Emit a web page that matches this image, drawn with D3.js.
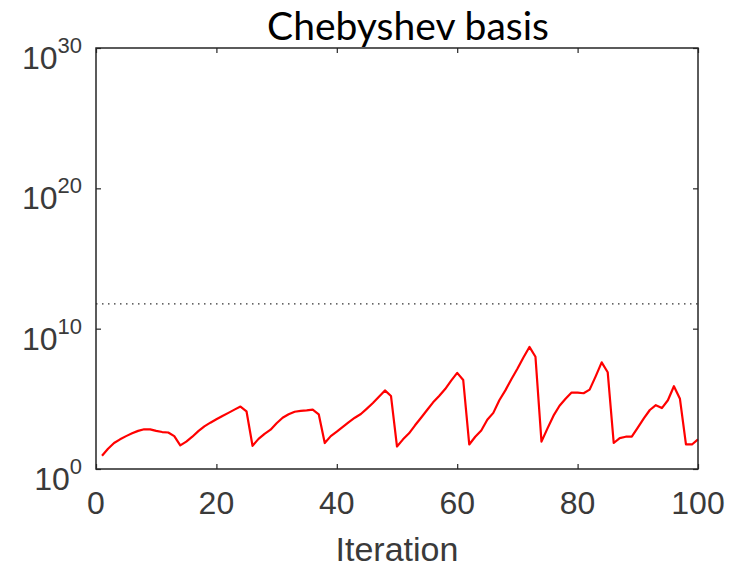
<!DOCTYPE html>
<html>
<head>
<meta charset="utf-8">
<script src="https://cdn.jsdelivr.net/npm/d3@7"></script>
<style>
  html, body { margin: 0; padding: 0; background: #fff; }
  svg { display: block; }
</style>
</head>
<body>
<svg id="chart" width="740" height="567"></svg>
<script>
// Growth factor per iteration, Chebyshev basis
const iterations = d3.range(1, 101);
const growth = [
  8.9e0, 2.8e1, 7.1e1, 1.3e2, 2.2e2, 3.5e2, 5.2e2, 6.8e2, 6.7e2, 5.2e2,
  4.3e2, 4.0e2, 2.2e2, 4.8e1, 8.9e1, 2.0e2, 5.0e2, 1.1e3, 2.0e3, 3.5e3,
  6.0e3, 1.0e4, 1.7e4, 2.8e4, 1.3e4, 4.5e1, 1.4e2, 3.2e2, 6.3e2, 1.8e3,
  4.5e3, 7.9e3, 1.2e4, 1.4e4, 1.5e4, 1.7e4, 7.9e3, 7.1e1, 2.2e2, 4.6e2,
  1.0e3, 2.2e3, 4.5e3, 8.3e3, 2.0e4, 5.0e4, 1.4e5, 4.0e5, 1.6e5, 4.0e1,
  1.3e2, 3.5e2, 1.3e3, 4.5e3, 1.6e4, 5.6e4, 1.6e5, 5.0e5, 2.0e6, 7.1e6,
  2.2e6, 5.6e1, 2.0e2, 5.6e2, 3.2e3, 1.0e4, 7.9e4, 4.0e5, 2.5e6, 1.4e7,
  8.9e7, 5.0e8, 1.0e8, 8.9e1, 7.9e2, 6.3e3, 3.2e4, 1.0e5, 2.8e5, 2.8e5,
  2.5e5, 4.5e5, 4.0e6, 4.0e7, 7.9e6, 7.1e1, 1.6e2, 2.0e2, 2.0e2, 8.9e2,
  4.0e3, 1.6e4, 3.5e4, 2.2e4, 7.9e4, 7.9e5, 1.0e5, 5.6e1, 5.6e1, 1.3e2
];
const threshold = 5.8e11;
const xTicks = [0, 20, 40, 60, 80, 100];
const yTickExponents = [0, 10, 20, 30];
const titleText = "Chebyshev basis";
const xLabelText = "Iteration";

const svg = d3.select("#chart");
const box = { left: 96, right: 698, top: 48, bottom: 469 };
const axisColor = "#262626";
const textColor = "#3a3a3a";

const x = d3.scaleLinear().domain([0, 100]).range([box.left, box.right]);
const y = d3.scaleLog().domain([1, 1e30]).range([box.bottom, box.top]);

// plot background
svg.append("rect")
  .attr("x", box.left).attr("y", box.top)
  .attr("width", box.right - box.left).attr("height", box.bottom - box.top)
  .attr("fill", "#fff");

// threshold reference line
svg.append("line")
  .attr("x1", box.left).attr("x2", box.right)
  .attr("y1", y(threshold)).attr("y2", y(threshold))
  .attr("stroke", "#333").attr("stroke-width", 1.2)
  .attr("stroke-dasharray", "1.5,4.5");

// data line
const line = d3.line()
  .x((d, i) => x(iterations[i]))
  .y(d => y(d));
svg.append("path")
  .datum(growth)
  .attr("fill", "none")
  .attr("stroke", "#ff0000")
  .attr("stroke-width", 2.2)
  .attr("stroke-linejoin", "round")
  .attr("d", line);

// axes: ticks point inward on all four sides
const tickLen = 5;
const yTickVals = yTickExponents.map(e => Math.pow(10, e));
const styleAxis = g => {
  g.select(".domain").remove();
  g.selectAll(".tick line").attr("stroke", axisColor).attr("stroke-width", 1.2);
  g.selectAll(".tick text").remove();
};
svg.append("g").attr("transform", `translate(0,${box.bottom})`)
  .call(d3.axisBottom(x).tickValues(xTicks).tickSize(-tickLen)).call(styleAxis);
svg.append("g").attr("transform", `translate(0,${box.top})`)
  .call(d3.axisTop(x).tickValues(xTicks).tickSize(-tickLen)).call(styleAxis);
svg.append("g").attr("transform", `translate(${box.left},0)`)
  .call(d3.axisLeft(y).tickValues(yTickVals).tickSize(-tickLen)).call(styleAxis);
svg.append("g").attr("transform", `translate(${box.right},0)`)
  .call(d3.axisRight(y).tickValues(yTickVals).tickSize(-tickLen)).call(styleAxis);

// box outline
svg.append("rect")
  .attr("x", box.left).attr("y", box.top)
  .attr("width", box.right - box.left).attr("height", box.bottom - box.top)
  .attr("fill", "none").attr("stroke", axisColor).attr("stroke-width", 1.5);

const font = "Liberation Sans, Arimo, Arial, sans-serif";

// x tick labels
svg.append("g").selectAll("text")
  .data(xTicks).join("text")
  .attr("x", d => x(d)).attr("y", box.bottom + 45)
  .attr("text-anchor", "middle")
  .attr("font-family", font).attr("font-size", 32)
  .attr("fill", textColor)
  .text(d => d);

// y tick labels: 10 with superscript exponent
const yLab = svg.append("g").selectAll("text")
  .data(yTickExponents).join("text")
  .attr("x", box.left - 14).attr("y", d => y(Math.pow(10, d)) + 21)
  .attr("text-anchor", "end")
  .attr("font-family", font).attr("font-size", 32)
  .attr("fill", textColor);
yLab.append("tspan").text("10");
yLab.append("tspan").attr("dy", -16).attr("font-size", 22).text(d => d);

// x label
svg.append("text")
  .attr("x", (box.left + box.right) / 2).attr("y", 561)
  .attr("text-anchor", "middle")
  .attr("font-family", font).attr("font-size", 34)
  .attr("fill", textColor)
  .text(xLabelText);

// title
svg.append("text")
  .attr("x", 408).attr("y", 40)
  .attr("text-anchor", "middle")
  .attr("font-family", "Lato, 'Open Sans', sans-serif").attr("font-size", 39)
  .attr("fill", "#000")
  .text(titleText);
</script>
</body>
</html>
